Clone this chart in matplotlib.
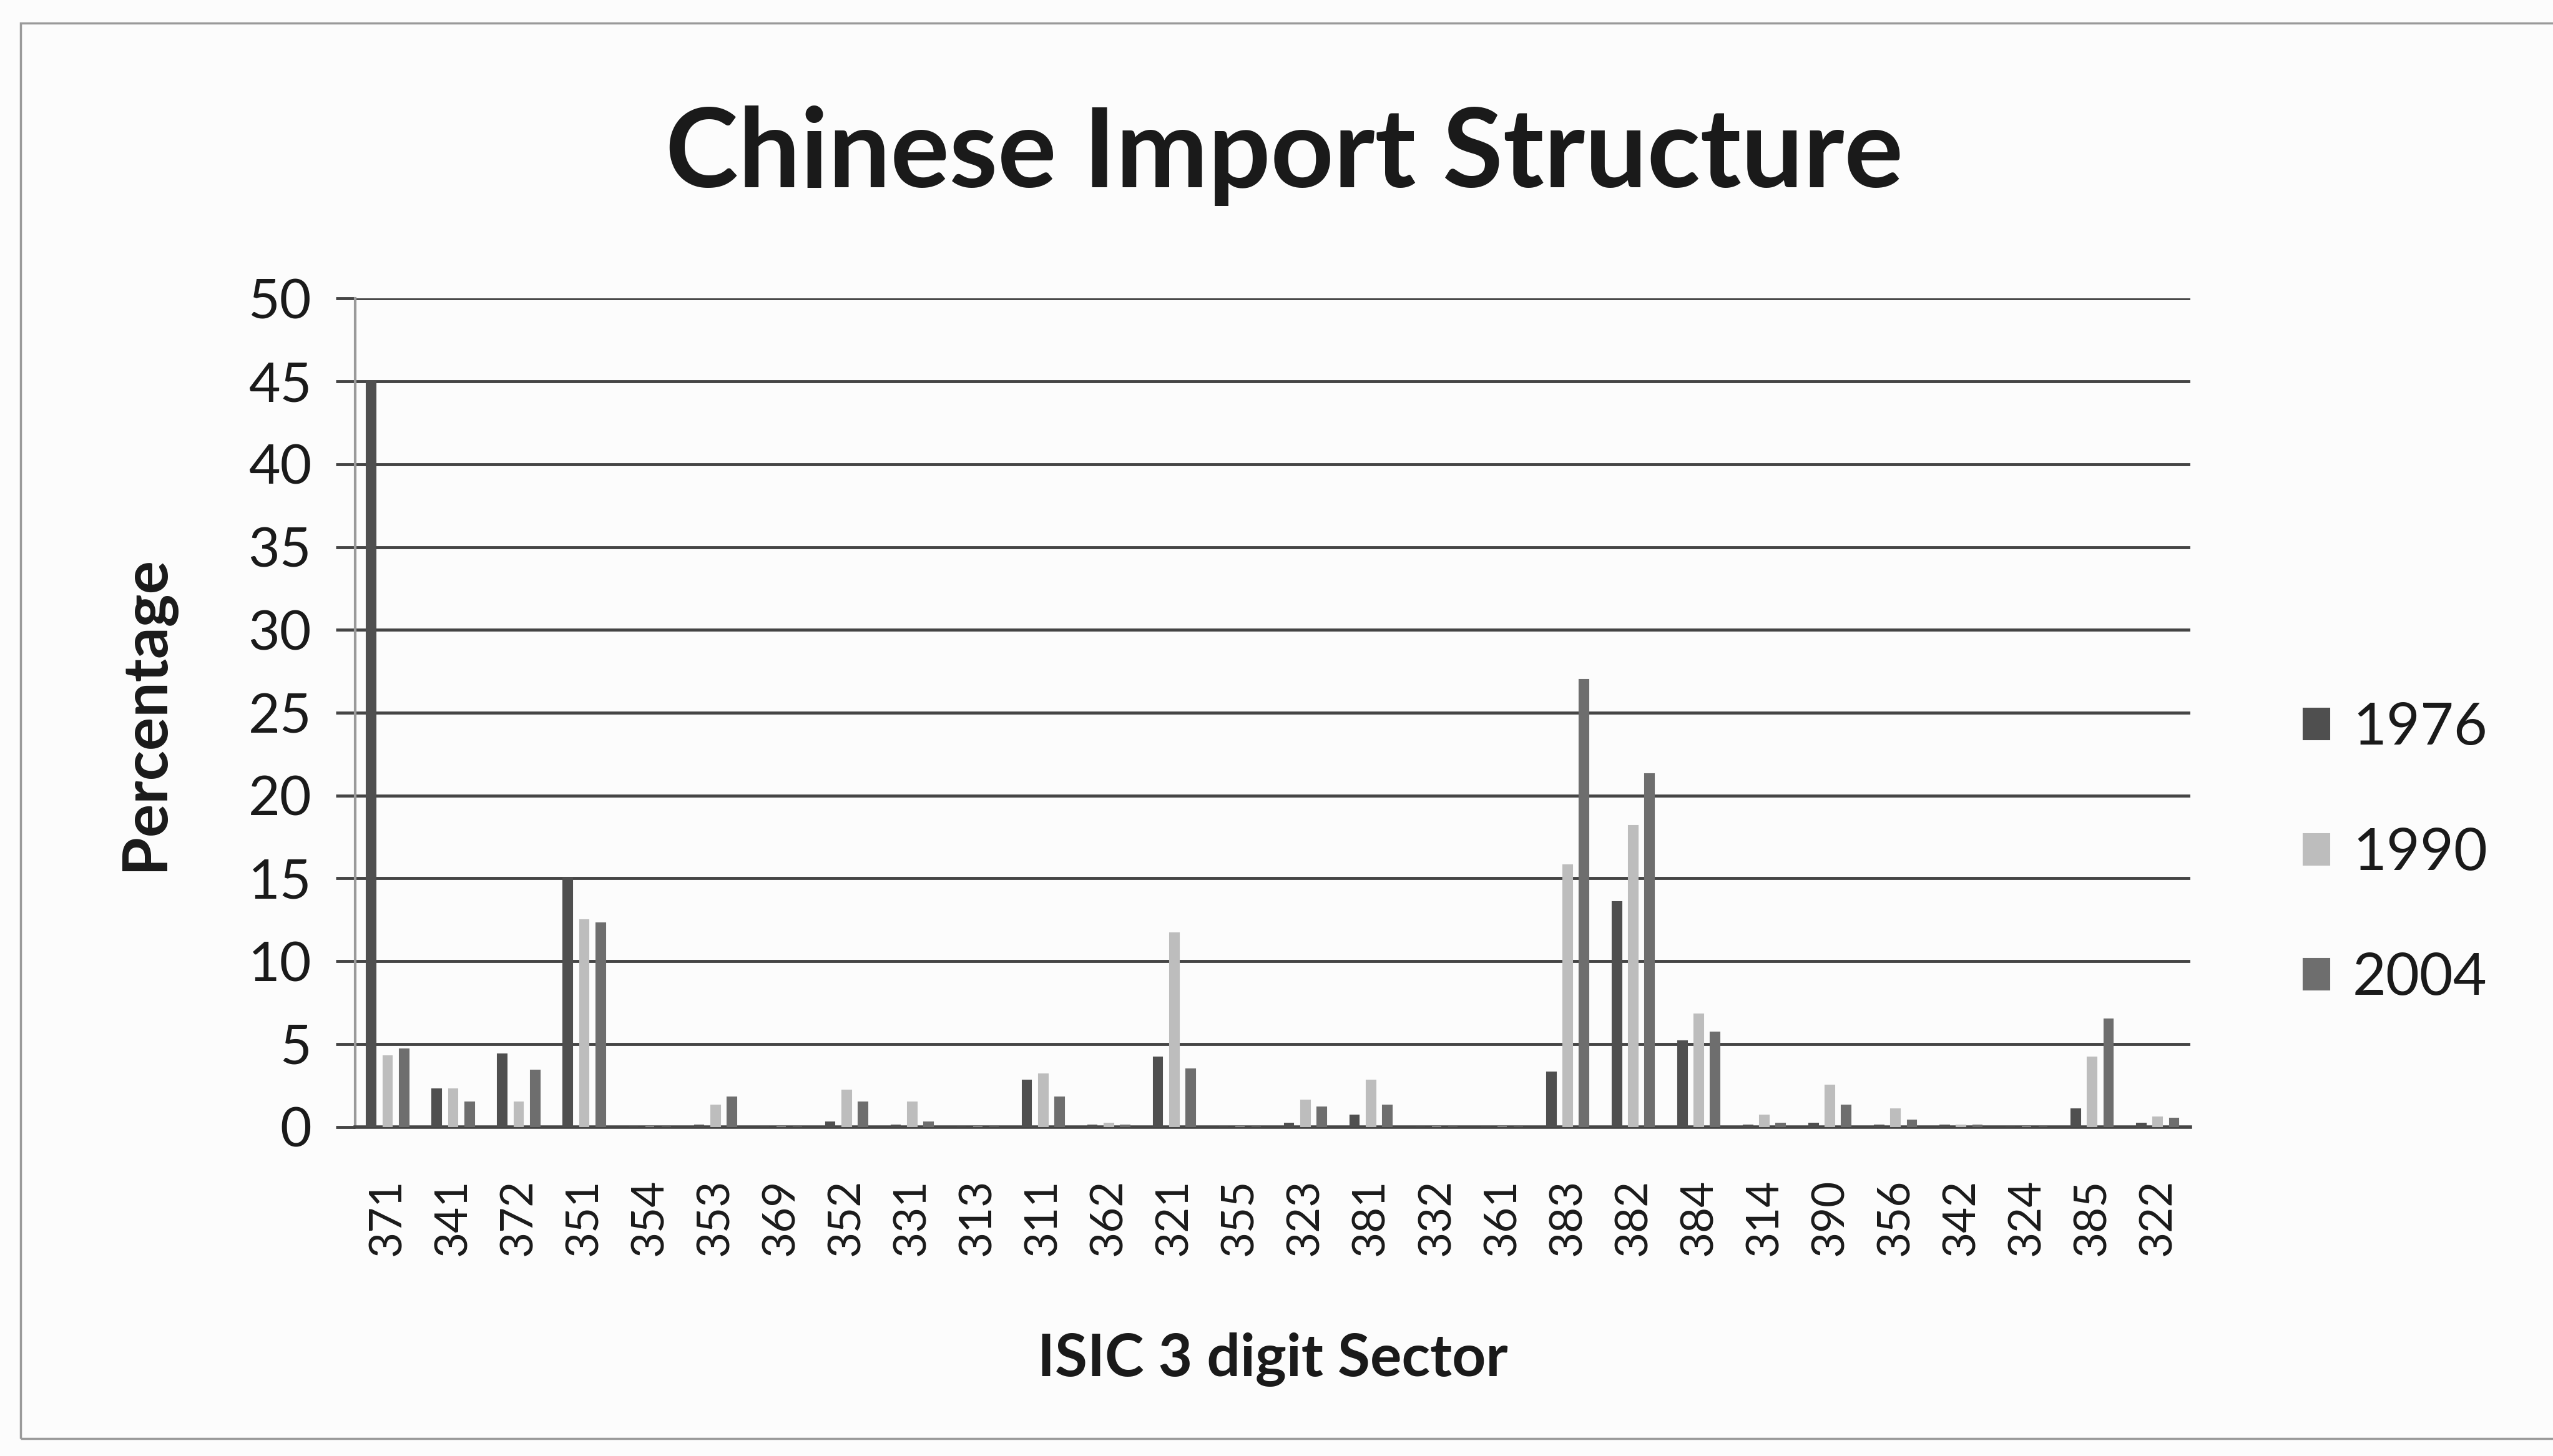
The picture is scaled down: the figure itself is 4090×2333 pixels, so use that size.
import numpy as np
import matplotlib
matplotlib.use("Agg")
import matplotlib.pyplot as plt
from matplotlib.patches import Rectangle

# ISIC 3-digit sectors and import shares (%)
sectors = ['371', '341', '372', '351', '354', '353', '369', '352', '331', '313',
           '311', '362', '321', '355', '323', '381', '332', '361', '383', '382',
           '384', '314', '390', '356', '342', '324', '385', '322']
v1976 = [45.0, 2.3, 4.4, 15.0, 0.0, 0.1, 0.0, 0.3, 0.1, 0.0,
         2.8, 0.1, 4.2, 0.0, 0.2, 0.7, 0.0, 0.0, 3.3, 13.6,
         5.2, 0.1, 0.2, 0.1, 0.1, 0.0, 1.1, 0.2]
v1990 = [4.3, 2.3, 1.5, 12.5, 0.0, 1.3, 0.0, 2.2, 1.5, 0.0,
         3.2, 0.2, 11.7, 0.0, 1.6, 2.8, 0.0, 0.0, 15.8, 18.2,
         6.8, 0.7, 2.5, 1.1, 0.1, 0.0, 4.2, 0.6]
v2004 = [4.7, 1.5, 3.4, 12.3, 0.0, 1.8, 0.0, 1.5, 0.3, 0.0,
         1.8, 0.1, 3.5, 0.0, 1.2, 1.3, 0.0, 0.0, 27.0, 21.3,
         5.7, 0.2, 1.3, 0.4, 0.1, 0.0, 6.5, 0.5]
years = ['1976', '1990', '2004']
y_ticks = list(range(0, 55, 5))

FONT = 'Lato'
COLORS = ['#4f4f4f', '#bdbdbd', '#6e6e6e']
GRID = '#454545'

plt.rcParams['font.family'] = [FONT, 'DejaVu Sans']

fig = plt.figure(figsize=(40.9, 23.33), dpi=100)
fig.patch.set_facecolor('#fcfcfc')

# thin frame round the chart area
fig.patches.append(Rectangle((0.008, 0.012), 1.1, 0.972, transform=fig.transFigure,
                             fill=False, edgecolor='#9a9a9a', linewidth=2.5))

ax = fig.add_axes([0.139, 0.226, 0.719, 0.569])
ax.set_facecolor('none')

x = np.arange(len(sectors))
offsets = [-0.25, 0.0, 0.25]
for vals, off, col, lab in zip([v1976, v1990, v2004], offsets, COLORS, years):
    ax.bar(x + off, vals, width=0.14, color=col, edgecolor=col, linewidth=1.5,
           label=lab, zorder=3)

ax.set_xlim(-0.5, len(sectors) - 0.5)
ax.set_ylim(0, 50)
ax.set_yticks(y_ticks)
ax.set_yticklabels([str(t) for t in y_ticks], fontsize=63, color='#1a1a1a')
ax.set_xticks(x)
ax.set_xticklabels(sectors, rotation=90, fontsize=51, color='#1a1a1a')

ax.yaxis.grid(True, color=GRID, linewidth=3.5, zorder=1)
ax.set_axisbelow(True)
ax.tick_params(axis='y', length=22, width=3.5, color=GRID, pad=28)
ax.tick_params(axis='x', length=0, pad=60)

for side in ['top', 'right']:
    ax.spines[side].set_visible(False)
ax.spines['left'].set_color('#9a9a9a')
ax.spines['left'].set_linewidth(3)
ax.spines['bottom'].set_color(GRID)
ax.spines['bottom'].set_linewidth(4)

ax.set_ylabel('Percentage', fontsize=72, fontweight='bold', color='#1a1a1a', labelpad=85)
ax.set_xlabel('ISIC 3 digit Sector', fontsize=68, fontweight='bold', color='#1a1a1a', labelpad=88)

fig.text(0.503, 0.893, 'Chinese Import Structure', ha='center', va='center',
         fontsize=127, fontweight='bold', color='#1a1a1a')

leg = ax.legend(loc='center left', bbox_to_anchor=(1.033, 0.33), frameon=False,
                fontsize=67, handlelength=0.45, handleheight=0.45,
                handletextpad=0.4, labelspacing=1.25)
for t in leg.get_texts():
    t.set_color('#1a1a1a')

fig.savefig('out.png', dpi=100, facecolor=fig.get_facecolor())
